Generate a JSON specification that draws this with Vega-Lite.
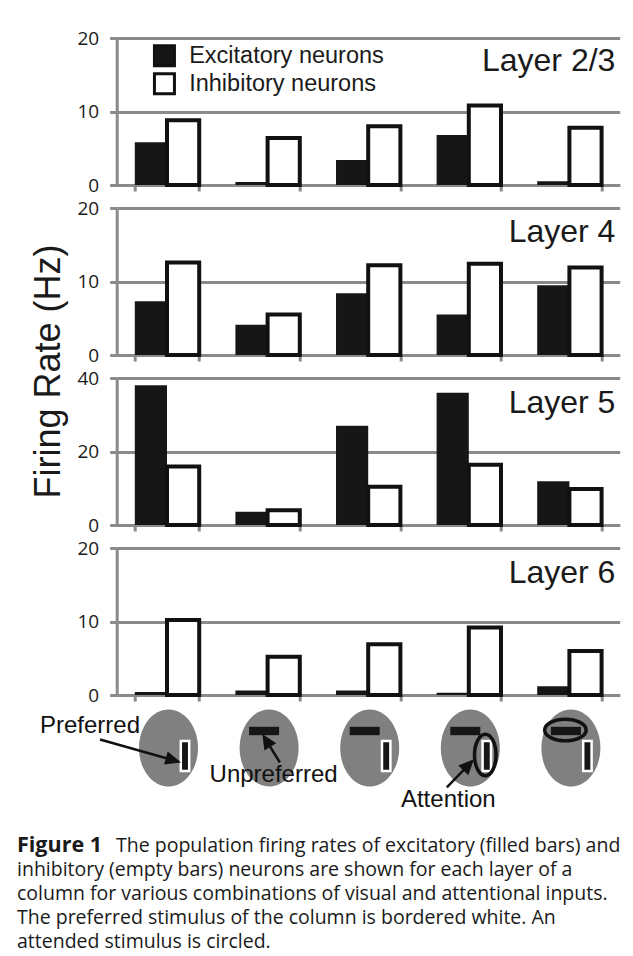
{
  "$schema": "https://vega.github.io/schema/vega-lite/v6.json",
  "padding": {"left": 17, "top": 29, "right": 5, "bottom": 0},
  "datasets": {
    "rates": [
      {"layer": "Layer 2/3", "cond": "1", "type": "Excitatory neurons", "rate": 5.8},
      {"layer": "Layer 2/3", "cond": "1", "type": "Inhibitory neurons", "rate": 8.8},
      {"layer": "Layer 2/3", "cond": "2", "type": "Excitatory neurons", "rate": 0.4},
      {"layer": "Layer 2/3", "cond": "2", "type": "Inhibitory neurons", "rate": 6.4},
      {"layer": "Layer 2/3", "cond": "3", "type": "Excitatory neurons", "rate": 3.4},
      {"layer": "Layer 2/3", "cond": "3", "type": "Inhibitory neurons", "rate": 8.0},
      {"layer": "Layer 2/3", "cond": "4", "type": "Excitatory neurons", "rate": 6.8},
      {"layer": "Layer 2/3", "cond": "4", "type": "Inhibitory neurons", "rate": 10.8},
      {"layer": "Layer 2/3", "cond": "5", "type": "Excitatory neurons", "rate": 0.5},
      {"layer": "Layer 2/3", "cond": "5", "type": "Inhibitory neurons", "rate": 7.8},
      {"layer": "Layer 4", "cond": "1", "type": "Excitatory neurons", "rate": 7.3},
      {"layer": "Layer 4", "cond": "1", "type": "Inhibitory neurons", "rate": 12.6},
      {"layer": "Layer 4", "cond": "2", "type": "Excitatory neurons", "rate": 4.1},
      {"layer": "Layer 4", "cond": "2", "type": "Inhibitory neurons", "rate": 5.5},
      {"layer": "Layer 4", "cond": "3", "type": "Excitatory neurons", "rate": 8.4},
      {"layer": "Layer 4", "cond": "3", "type": "Inhibitory neurons", "rate": 12.2},
      {"layer": "Layer 4", "cond": "4", "type": "Excitatory neurons", "rate": 5.5},
      {"layer": "Layer 4", "cond": "4", "type": "Inhibitory neurons", "rate": 12.4},
      {"layer": "Layer 4", "cond": "5", "type": "Excitatory neurons", "rate": 9.5},
      {"layer": "Layer 4", "cond": "5", "type": "Inhibitory neurons", "rate": 11.9},
      {"layer": "Layer 5", "cond": "1", "type": "Excitatory neurons", "rate": 38.0},
      {"layer": "Layer 5", "cond": "1", "type": "Inhibitory neurons", "rate": 15.9},
      {"layer": "Layer 5", "cond": "2", "type": "Excitatory neurons", "rate": 3.6},
      {"layer": "Layer 5", "cond": "2", "type": "Inhibitory neurons", "rate": 4.0},
      {"layer": "Layer 5", "cond": "3", "type": "Excitatory neurons", "rate": 27.0},
      {"layer": "Layer 5", "cond": "3", "type": "Inhibitory neurons", "rate": 10.4},
      {"layer": "Layer 5", "cond": "4", "type": "Excitatory neurons", "rate": 36.0},
      {"layer": "Layer 5", "cond": "4", "type": "Inhibitory neurons", "rate": 16.4},
      {"layer": "Layer 5", "cond": "5", "type": "Excitatory neurons", "rate": 11.9},
      {"layer": "Layer 5", "cond": "5", "type": "Inhibitory neurons", "rate": 9.8},
      {"layer": "Layer 6", "cond": "1", "type": "Excitatory neurons", "rate": 0.4},
      {"layer": "Layer 6", "cond": "1", "type": "Inhibitory neurons", "rate": 10.2},
      {"layer": "Layer 6", "cond": "2", "type": "Excitatory neurons", "rate": 0.6},
      {"layer": "Layer 6", "cond": "2", "type": "Inhibitory neurons", "rate": 5.2},
      {"layer": "Layer 6", "cond": "3", "type": "Excitatory neurons", "rate": 0.6},
      {"layer": "Layer 6", "cond": "3", "type": "Inhibitory neurons", "rate": 6.9},
      {"layer": "Layer 6", "cond": "4", "type": "Excitatory neurons", "rate": 0.3},
      {"layer": "Layer 6", "cond": "4", "type": "Inhibitory neurons", "rate": 9.2},
      {"layer": "Layer 6", "cond": "5", "type": "Excitatory neurons", "rate": 1.2},
      {"layer": "Layer 6", "cond": "5", "type": "Inhibitory neurons", "rate": 6.0}
    ],
    "icons": [
      {"cond": "1", "stimuli": "preferred", "attended": "none", "note": "Preferred"},
      {"cond": "2", "stimuli": "unpreferred", "attended": "none", "note": "Unpreferred"},
      {"cond": "3", "stimuli": "both", "attended": "none", "note": ""},
      {"cond": "4", "stimuli": "both", "attended": "preferred", "note": "Attention"},
      {"cond": "5", "stimuli": "both", "attended": "unpreferred", "note": ""}
    ],
    "caption": [
      {"line": 1, "lead": "Figure 1", "text": "The population firing rates of excitatory (filled bars) and"},
      {"line": 2, "lead": "", "text": "inhibitory (empty bars) neurons are shown for each layer of a"},
      {"line": 3, "lead": "", "text": "column for various combinations of visual and attentional inputs."},
      {"line": 4, "lead": "", "text": "The preferred stimulus of the column is bordered white. An"},
      {"line": 5, "lead": "", "text": "attended stimulus is circled."}
    ]
  },
  "vconcat": [
    {
      "hconcat": [
        {
          "width": 86,
          "height": 657,
          "data": {"values": [{"label": "Firing Rate (Hz)"}]},
          "mark": {"type": "text", "angle": 270, "align": "center", "baseline": "alphabetic", "font": "Liberation Sans", "fontSize": 36, "color": "#1a1a1a", "dx": -5},
          "encoding": {"text": {"field": "label"}}
        },
        {
          "vconcat": [
            {
              "width": 503,
              "height": 147,
              "data": {"name": "rates"},
              "transform": [{"filter": "datum.layer === 'Layer 2/3'"}],
              "layer": [
                {
                  "mark": {"type": "bar", "stroke": "#111111"},
                  "encoding": {
                    "x": {"field": "cond", "type": "nominal", "scale": {"paddingInner": 0.36, "paddingOuter": 0.18}, "axis": {"title": null, "labels": false, "tickBand": "extent"}},
                    "xOffset": {"field": "type", "type": "nominal", "sort": ["Excitatory neurons", "Inhibitory neurons"]},
                    "y": {"field": "rate", "type": "quantitative", "scale": {"domain": [0, 20]}, "axis": {"title": null, "values": [0, 10, 20]}},
                    "color": {
                      "field": "type", "type": "nominal",
                      "scale": {"domain": ["Excitatory neurons", "Inhibitory neurons"], "range": ["#161616", "#ffffff"]},
                      "legend": {"orient": "none", "legendX": 36, "legendY": 6, "title": null, "symbolType": "square", "symbolSize": 400, "symbolStrokeColor": "#111111", "symbolStrokeWidth": 3, "symbolOpacity": 1, "labelFont": "Liberation Sans", "labelFontSize": 23.5, "labelColor": "#1a1a1a", "labelOffset": 13, "labelLimit": 400, "rowPadding": -5, "padding": 0}
                    },
                    "strokeWidth": {"condition": {"test": "datum.type === 'Inhibitory neurons'", "value": 4}, "value": 0}
                  }
                },
                {
                  "transform": [{"filter": "datum.cond === '1' && datum.type === 'Excitatory neurons'"}],
                  "mark": {"type": "text", "align": "right", "baseline": "alphabetic", "font": "Liberation Sans", "fontSize": 32, "dx": 46, "color": "#1a1a1a"},
                  "encoding": {"x": {"datum": "5", "type": "nominal"}, "y": {"datum": 15.5, "type": "quantitative"}, "text": {"field": "layer"}}
                }
              ]
            },
            {
              "width": 503,
              "height": 147,
              "data": {"name": "rates"},
              "transform": [{"filter": "datum.layer === 'Layer 4'"}],
              "layer": [
                {
                  "mark": {"type": "bar", "stroke": "#111111"},
                  "encoding": {
                    "x": {"field": "cond", "type": "nominal", "scale": {"paddingInner": 0.36, "paddingOuter": 0.18}, "axis": {"title": null, "labels": false, "tickBand": "extent"}},
                    "xOffset": {"field": "type", "type": "nominal", "sort": ["Excitatory neurons", "Inhibitory neurons"]},
                    "y": {"field": "rate", "type": "quantitative", "scale": {"domain": [0, 20]}, "axis": {"title": null, "values": [0, 10, 20]}},
                    "color": {"field": "type", "type": "nominal", "scale": {"domain": ["Excitatory neurons", "Inhibitory neurons"], "range": ["#161616", "#ffffff"]}, "legend": null},
                    "strokeWidth": {"condition": {"test": "datum.type === 'Inhibitory neurons'", "value": 4}, "value": 0}
                  }
                },
                {
                  "transform": [{"filter": "datum.cond === '1' && datum.type === 'Excitatory neurons'"}],
                  "mark": {"type": "text", "align": "right", "baseline": "alphabetic", "font": "Liberation Sans", "fontSize": 32, "dx": 46, "color": "#1a1a1a"},
                  "encoding": {"x": {"datum": "5", "type": "nominal"}, "y": {"datum": 15.4, "type": "quantitative"}, "text": {"field": "layer"}}
                }
              ]
            },
            {
              "width": 503,
              "height": 147,
              "data": {"name": "rates"},
              "transform": [{"filter": "datum.layer === 'Layer 5'"}],
              "layer": [
                {
                  "mark": {"type": "bar", "stroke": "#111111"},
                  "encoding": {
                    "x": {"field": "cond", "type": "nominal", "scale": {"paddingInner": 0.36, "paddingOuter": 0.18}, "axis": {"title": null, "labels": false, "tickBand": "extent"}},
                    "xOffset": {"field": "type", "type": "nominal", "sort": ["Excitatory neurons", "Inhibitory neurons"]},
                    "y": {"field": "rate", "type": "quantitative", "scale": {"domain": [0, 40]}, "axis": {"title": null, "values": [0, 20, 40]}},
                    "color": {"field": "type", "type": "nominal", "scale": {"domain": ["Excitatory neurons", "Inhibitory neurons"], "range": ["#161616", "#ffffff"]}, "legend": null},
                    "strokeWidth": {"condition": {"test": "datum.type === 'Inhibitory neurons'", "value": 4}, "value": 0}
                  }
                },
                {
                  "transform": [{"filter": "datum.cond === '1' && datum.type === 'Excitatory neurons'"}],
                  "mark": {"type": "text", "align": "right", "baseline": "alphabetic", "font": "Liberation Sans", "fontSize": 32, "dx": 46, "color": "#1a1a1a"},
                  "encoding": {"x": {"datum": "5", "type": "nominal"}, "y": {"datum": 30.6, "type": "quantitative"}, "text": {"field": "layer"}}
                }
              ]
            },
            {
              "width": 503,
              "height": 147,
              "data": {"name": "rates"},
              "transform": [{"filter": "datum.layer === 'Layer 6'"}],
              "layer": [
                {
                  "mark": {"type": "bar", "stroke": "#111111"},
                  "encoding": {
                    "x": {"field": "cond", "type": "nominal", "scale": {"paddingInner": 0.36, "paddingOuter": 0.18}, "axis": {"title": null, "labels": false, "tickBand": "extent"}},
                    "xOffset": {"field": "type", "type": "nominal", "sort": ["Excitatory neurons", "Inhibitory neurons"]},
                    "y": {"field": "rate", "type": "quantitative", "scale": {"domain": [0, 20]}, "axis": {"title": null, "values": [0, 10, 20]}},
                    "color": {"field": "type", "type": "nominal", "scale": {"domain": ["Excitatory neurons", "Inhibitory neurons"], "range": ["#161616", "#ffffff"]}, "legend": null},
                    "strokeWidth": {"condition": {"test": "datum.type === 'Inhibitory neurons'", "value": 4}, "value": 0}
                  }
                },
                {
                  "transform": [{"filter": "datum.cond === '1' && datum.type === 'Excitatory neurons'"}],
                  "mark": {"type": "text", "align": "right", "baseline": "alphabetic", "font": "Liberation Sans", "fontSize": 32, "dx": 46, "color": "#1a1a1a"},
                  "encoding": {"x": {"datum": "5", "type": "nominal"}, "y": {"datum": 15.3, "type": "quantitative"}, "text": {"field": "layer"}}
                }
              ]
            },
            {
              "width": 503,
              "height": 94,
              "data": {"name": "icons"},
              "encoding": {
                "x": {"field": "cond", "type": "nominal", "scale": {"type": "point", "padding": 0.5, "domain": ["1", "2", "3", "4", "5"]}, "axis": null}
              },
              "layer": [
                {
                  "mark": {"type": "point", "shape": "M -0.766 0 A 0.766 1 0 1 0 0.766 0 A 0.766 1 0 1 0 -0.766 0 Z", "size": 5929, "filled": true, "fill": "#808080", "strokeWidth": 0, "opacity": 1, "xOffset": 1.5, "yOffset": -17}
                },
                {
                  "transform": [{"filter": "datum.stimuli !== 'unpreferred'"}],
                  "mark": {"type": "point", "shape": "M -0.28 -1 L 0.28 -1 L 0.28 1 L -0.28 1 Z", "size": 900, "filled": true, "fill": "#161616", "stroke": "#ffffff", "strokeWidth": 2.5, "opacity": 1, "xOffset": 18, "yOffset": -9}
                },
                {
                  "transform": [{"filter": "datum.stimuli !== 'preferred'"}],
                  "mark": {"type": "point", "shape": "M -1 -0.28 L 1 -0.28 L 1 0.28 L -1 0.28 Z", "size": 900, "filled": true, "fill": "#161616", "strokeWidth": 0, "opacity": 1, "xOffset": -3.5, "yOffset": -34}
                },
                {
                  "transform": [{"filter": "datum.attended === 'preferred'"}],
                  "mark": {"type": "point", "shape": "M -0.52 0 A 0.52 1 0 1 0 0.52 0 A 0.52 1 0 1 0 -0.52 0 Z", "size": 1722, "filled": false, "fill": null, "stroke": "#111111", "strokeWidth": 3.5, "opacity": 1, "xOffset": 16.5, "yOffset": -10}
                },
                {
                  "transform": [{"filter": "datum.attended === 'unpreferred'"}],
                  "mark": {"type": "point", "shape": "M -1 0 A 1 0.52 0 1 0 1 0 A 1 0.52 0 1 0 -1 0 Z", "size": 1722, "filled": false, "fill": null, "stroke": "#111111", "strokeWidth": 3.5, "opacity": 1, "xOffset": -4, "yOffset": -35}
                },
                {
                  "transform": [{"filter": "datum.note === 'Preferred'"}],
                  "mark": {"type": "text", "align": "right", "baseline": "alphabetic", "font": "Liberation Sans", "fontSize": 24, "color": "#111111", "dx": -27, "dy": -32.5},
                  "encoding": {"text": {"field": "note"}}
                },
                {
                  "transform": [{"filter": "datum.note === 'Unpreferred'"}],
                  "mark": {"type": "text", "align": "center", "baseline": "alphabetic", "font": "Liberation Sans", "fontSize": 24, "color": "#111111", "dx": 6, "dy": 16.5},
                  "encoding": {"text": {"field": "note"}}
                },
                {
                  "transform": [{"filter": "datum.note === 'Attention'"}],
                  "mark": {"type": "text", "align": "center", "baseline": "alphabetic", "font": "Liberation Sans", "fontSize": 24, "color": "#111111", "dx": -20.5, "dy": 41.5},
                  "encoding": {"text": {"field": "note"}}
                },
                {
                  "transform": [{"filter": "datum.note === 'Preferred'"}],
                  "mark": {"type": "point", "shape": "M -1 0 L 0.75 0 M 1 0 L 0.72 -0.12 L 0.72 0.12 Z", "size": 6561, "angle": 15.8, "filled": true, "fill": "#111111", "stroke": "#111111", "strokeWidth": 2.5, "opacity": 1, "xOffset": -28, "yOffset": -14.5}
                },
                {
                  "transform": [{"filter": "datum.note === 'Unpreferred'"}],
                  "mark": {"type": "point", "shape": "M -1 0 L 0.3 0 M 1 0 L 0.28 -0.33 L 0.28 0.33 Z", "size": 930, "angle": 238.4, "filled": true, "fill": "#111111", "stroke": "#111111", "strokeWidth": 2.5, "opacity": 1, "xOffset": 4.3, "yOffset": -15.5}
                },
                {
                  "transform": [{"filter": "datum.note === 'Attention'"}],
                  "mark": {"type": "point", "shape": "M -1 0 L 0.45 0 M 1 0 L 0.39 -0.28 L 0.39 0.28 Z", "size": 1296, "angle": 313.9, "filled": true, "fill": "#111111", "stroke": "#111111", "strokeWidth": 2.5, "opacity": 1, "xOffset": -9.5, "yOffset": 9.5}
                }
              ]
            }
          ],
          "spacing": 23,
          "bounds": "flush",
          "resolve": {"scale": {"x": "independent", "y": "independent", "color": "independent"}, "legend": {"color": "independent"}}
        }
      ],
      "spacing": 13.7,
      "bounds": "flush",
      "resolve": {"scale": {"x": "independent", "y": "independent", "color": "independent"}}
    },
    {
      "width": 603,
      "height": 120,
      "data": {"name": "caption"},
      "encoding": {
        "y": {"field": "line", "type": "ordinal", "scale": {"domain": [1, 2, 3, 4, 5], "paddingInner": 0, "paddingOuter": 0}, "axis": null},
        "x": {"datum": 0, "type": "quantitative", "scale": {"domain": [0, 1]}, "axis": null}
      },
      "layer": [
        {
          "transform": [{"filter": "datum.line === 1"}],
          "mark": {"type": "text", "align": "left", "baseline": "alphabetic", "font": "Open Sans", "fontWeight": "bold", "fontSize": 21.5, "color": "#1a1a1a"},
          "encoding": {"text": {"field": "lead"}}
        },
        {
          "transform": [{"filter": "datum.line === 1"}],
          "mark": {"type": "text", "align": "left", "baseline": "alphabetic", "font": "Open Sans", "fontSize": 19.5, "color": "#1a1a1a", "dx": 99},
          "encoding": {"text": {"field": "text"}}
        },
        {
          "transform": [{"filter": "datum.line > 1"}],
          "mark": {"type": "text", "align": "left", "baseline": "alphabetic", "font": "Open Sans", "fontSize": 19.5, "color": "#1a1a1a"},
          "encoding": {"text": {"field": "text"}}
        }
      ]
    }
  ],
  "spacing": 23,
  "resolve": {"scale": {"x": "independent", "y": "independent", "color": "independent"}},
  "config": {
    "view": {"stroke": null},
    "axis": {
      "grid": true,
      "gridColor": "#8a8a8a",
      "gridWidth": 3,
      "gridOpacity": 1,
      "domainColor": "#8a8a8a",
      "domainWidth": 3,
      "tickColor": "#8a8a8a",
      "tickWidth": 3,
      "tickSize": 7,
      "labelFont": "Open Sans",
      "labelFontSize": 19,
      "labelColor": "#1a1a1a",
      "labelPadding": 11
    },
    "axisX": {"grid": false, "tickSize": 6}
  }
}
